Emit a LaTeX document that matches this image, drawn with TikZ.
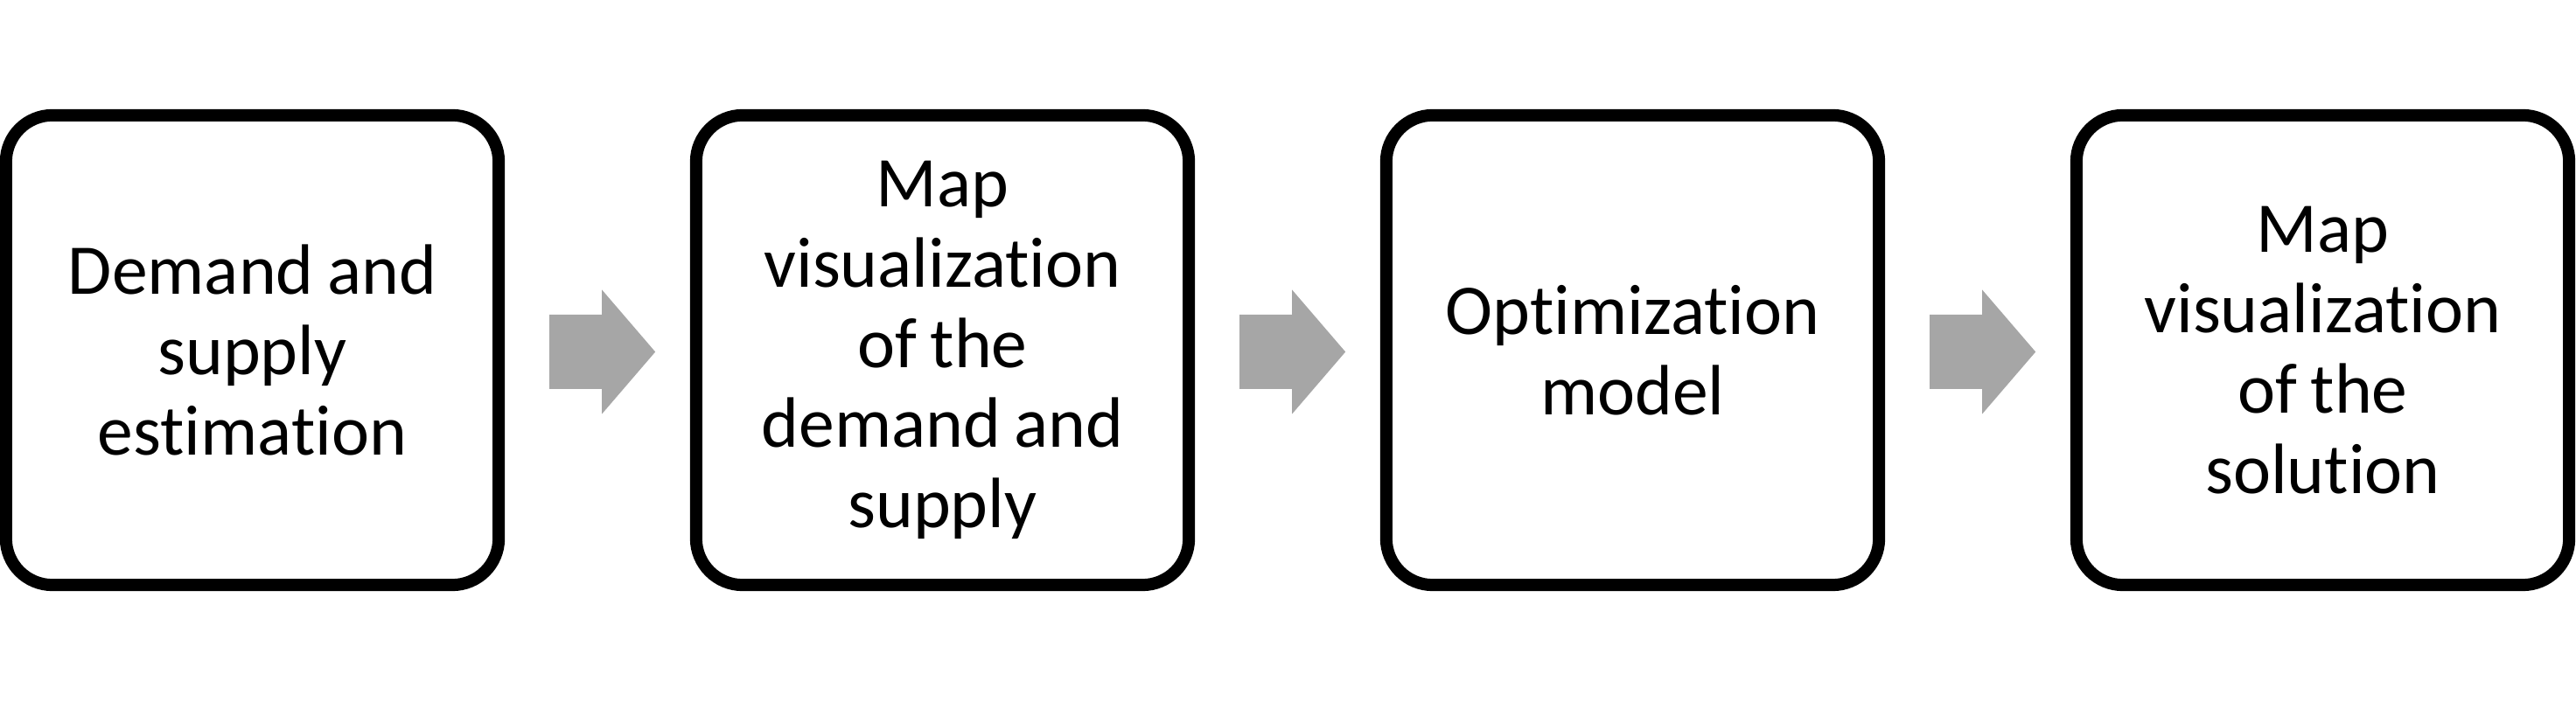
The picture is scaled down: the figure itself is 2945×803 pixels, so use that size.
\documentclass[tikz,border=0pt]{standalone}
\usepackage{fontspec}
\setmainfont{Carlito}[Ligatures=NoCommon]
\usetikzlibrary{calc}
\definecolor{arrowgray}{RGB}{166,166,166}
\begin{document}
\begin{tikzpicture}[x=0.01cm,y=0.01cm,
  stage/.style={draw=black, line width=0.14cm, rounded corners=0.53cm,
    minimum width=5.63cm, minimum height=5.37cm, inner sep=0pt, outer sep=0pt,
    text width=5.3cm, align=center, font=\fontsize{23.2}{26.1}\selectfont,
    execute at begin node={\spaceskip=0.19em\relax}},
  blockarrow/.style={fill=arrowgray, draw=none}]
\useasboundingbox (0,0) rectangle (2945,803);
\node[stage] (b1) at (288.5,402.5) {Demand and\\supply\\estimation};
\node[stage] (b2) at (1077.5,402.5) {Map\\visualization\\of the\\demand and\\supply};
\node[stage] (b3) at (1866.5,402.5) {Optimization\\model};
\node[stage] (b4) at (2655.5,402.5) {Map\\visualization\\of the\\solution};
\foreach \i in {1,2,3}{
  \fill[blockarrow] ($(b\i.east)+(58,40.5)$) -- ++(60,0) -- ++(0,28.5)
    -- ++(61,-71) -- ++(-61,-71) -- ++(0,28.5) -- ++(-60,0) -- cycle;
}
\end{tikzpicture}
\end{document}
